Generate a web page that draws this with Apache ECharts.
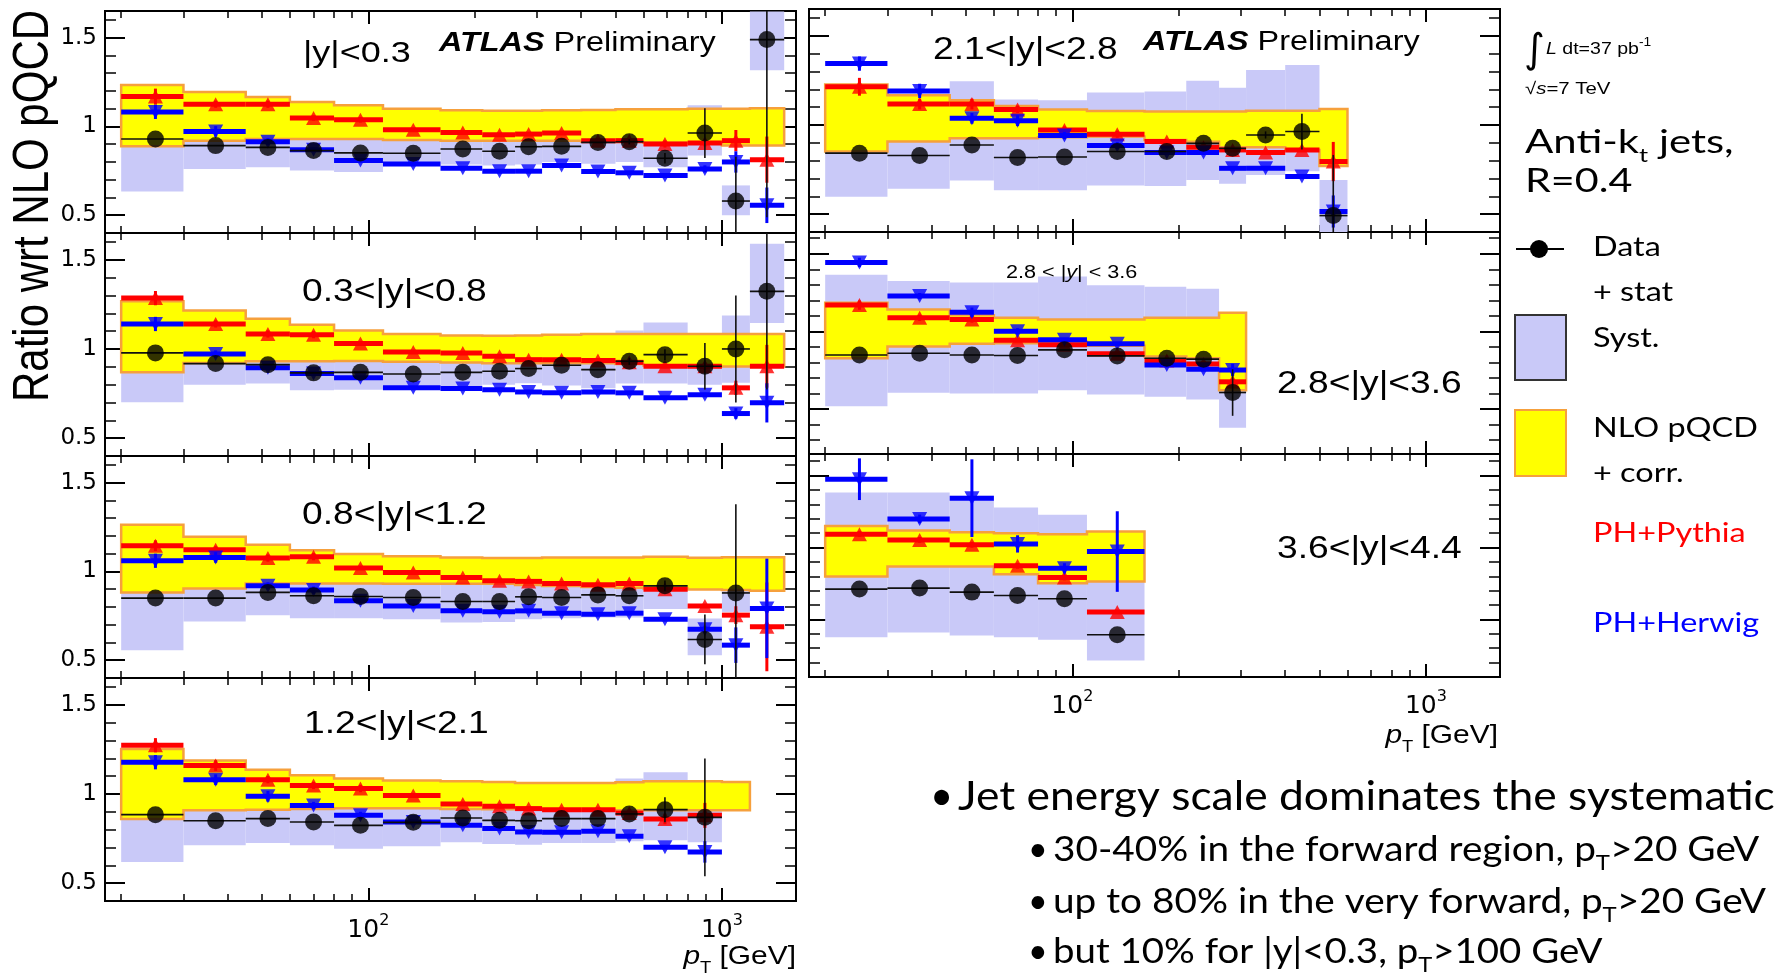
<!DOCTYPE html>
<html><head><meta charset="utf-8">
<script src="https://cdn.jsdelivr.net/npm/echarts@6/dist/echarts.min.js"></script>
<style>html,body{margin:0;padding:0;background:#fff}#c{width:1777px;height:979px}</style>
</head><body><div id="c"></div>
<script>
// ---------------- data ----------------
const binEdges   = [20,30,45,60,80,110,160,210,260,310,400,500,600,800,1000,1200,1500];
const binCentres = [25,37,52,70,95,134,185,235,284,352,446,547,690,895,1095,1340];
const xRange = [18, 1620];
const xMajorTicks = [100, 1000];
const xMinorTicks = [20,30,40,50,60,70,80,90,200,300,400,500,600,700,800,900];
const yMajorTicks = [0.5, 1, 1.5];
const yRangeMain = [0.4, 1.65];
const yRangeR2 = [0.21, 1.64];
const yRangeR3 = [0.1, 1.65];
const yMinorMain = [0.5,0.6,0.7,0.8,0.9,1.1,1.2,1.3,1.4,1.6];
const yMinorR2 = [0.3,0.4,0.6,0.7,0.8,0.9,1.1,1.2,1.3,1.4,1.6];
const yMinorR3 = [0.2,0.3,0.4,0.6,0.7,0.8,0.9,1.1,1.2,1.3,1.4,1.6];

// |y|<0.3
const nlo1Lo = [0.888,0.920,0.929,0.929,0.929,0.924,0.920,0.920,0.920,0.920,0.915,0.913,0.908,0.905,0.892,0.892];
const nlo1Hi = [1.233,1.194,1.166,1.138,1.119,1.100,1.091,1.088,1.088,1.091,1.093,1.097,1.097,1.100,1.100,1.103];
const sys1Lo = [0.634,0.761,0.770,0.752,0.743,0.780,0.785,0.780,0.785,0.800,0.790,0.800,0.770,0.836,0.500,1.317];
const sys1Hi = [1.200,1.020,1.000,0.980,0.960,0.940,0.960,0.950,0.990,0.980,1.030,1.030,0.950,1.119,0.668,1.647];
const data1 = [0.929,0.892,0.882,0.864,0.851,0.849,0.873,0.860,0.886,0.888,0.910,0.914,0.821,0.963,0.580,1.489];
const data1Err = [0,0,0,0,0,0,0,0,0,0,0,0.015,0.03,0.14,0.25,1.0];
const pythia1 = [1.168,1.125,1.125,1.047,1.037,0.981,0.966,0.953,0.957,0.963,0.920,0.920,0.901,0.907,0.920,0.813];
const pythia1Err = [0.045,0.02,0.02,0.015,0.015,0.01,0.01,0.01,0.01,0.01,0.01,0.01,0.02,0.02,0.06,0.13];
const herwig1 = [1.082,0.972,0.914,0.869,0.808,0.789,0.765,0.748,0.748,0.780,0.746,0.739,0.724,0.761,0.800,0.556];
const herwig1Err = [0.04,0.03,0.02,0.01,0.01,0.01,0.01,0.01,0.01,0.01,0.01,0.01,0.01,0.02,0.06,0.10];

// 0.3<|y|<0.8
const nlo2Lo = [0.869,0.922,0.931,0.931,0.933,0.929,0.924,0.920,0.920,0.920,0.920,0.916,0.907,0.901,0.901,0.901];
const nlo2Hi = [1.267,1.216,1.170,1.136,1.103,1.084,1.076,1.074,1.076,1.080,1.084,1.084,1.084,1.084,1.084,1.084];
const sys2Lo = [0.701,0.800,0.806,0.769,0.772,0.780,0.790,0.800,0.808,0.795,0.780,0.806,0.806,0.800,0.810,1.146];
const sys2Hi = [1.250,1.030,1.010,0.960,0.960,0.940,0.950,0.950,0.970,0.990,0.990,1.104,1.149,1.000,1.188,1.590];
const data2 = [0.978,0.918,0.912,0.866,0.869,0.860,0.869,0.875,0.890,0.909,0.884,0.931,0.968,0.903,1.000,1.323];
const data2Err = [0,0,0,0,0,0,0,0,0,0,0,0.02,0.03,0.13,0.30,0.55];
const pythia2 = [1.285,1.140,1.084,1.080,1.030,0.983,0.978,0.959,0.940,0.940,0.935,0.925,0.903,0.903,0.782,0.903];
const pythia2Err = [0.04,0.02,0.02,0.02,0.01,0.01,0.01,0.01,0.01,0.01,0.01,0.01,0.01,0.02,0.04,0.12];
const herwig2 = [1.140,0.972,0.894,0.862,0.838,0.782,0.778,0.772,0.759,0.754,0.759,0.754,0.726,0.744,0.638,0.698];
const herwig2Err = [0.04,0.02,0.01,0.01,0.01,0.01,0.01,0.01,0.01,0.01,0.01,0.01,0.01,0.01,0.03,0.11];

// 0.8<|y|<1.2
const nlo3Lo = [0.882,0.904,0.932,0.932,0.932,0.931,0.931,0.931,0.923,0.918,0.912,0.908,0.904,0.898,0.895,0.891];
const nlo3Hi = [1.263,1.195,1.150,1.120,1.098,1.085,1.079,1.075,1.075,1.079,1.079,1.079,1.083,1.077,1.080,1.080];
const sys3Lo = [0.556,0.718,0.754,0.737,0.737,0.731,0.712,0.716,0.731,0.737,0.740,0.740,0.788,0.528,0.772];
const sys3Hi = [1.250,1.000,1.000,0.980,0.970,0.960,0.940,0.940,0.960,0.960,0.970,0.970,0.950,0.735,0.940];
const data3 = [0.850,0.850,0.882,0.863,0.859,0.853,0.831,0.831,0.857,0.853,0.868,0.863,0.919,0.617,0.879];
const data3Err = [0,0,0,0,0,0,0,0,0,0,0,0,0.03,0.14,0.50];
const pythia3 = [1.145,1.122,1.075,1.083,1.019,0.994,0.966,0.947,0.944,0.932,0.925,0.932,0.900,0.806,0.754,0.688];
const pythia3Err = [0.03,0.02,0.02,0.02,0.01,0.01,0.01,0.01,0.01,0.01,0.01,0.01,0.01,0.01,0.05,0.25];
const herwig3 = [1.060,1.079,0.919,0.895,0.835,0.806,0.778,0.773,0.778,0.765,0.759,0.765,0.731,0.675,0.585,0.792];
const herwig3Err = [0.04,0.03,0.02,0.02,0.01,0.01,0.01,0.01,0.01,0.01,0.01,0.01,0.01,0.02,0.10,0.28];

// 1.2<|y|<2.1
const nlo4Lo = [0.860,0.908,0.912,0.916,0.920,0.920,0.916,0.914,0.914,0.912,0.908,0.908,0.908,0.908,0.908];
const nlo4Hi = [1.252,1.187,1.136,1.105,1.086,1.075,1.071,1.067,1.062,1.062,1.062,1.065,1.071,1.071,1.067];
const sys4Lo = [0.619,0.712,0.725,0.712,0.693,0.707,0.729,0.720,0.716,0.725,0.725,0.735,0.740,0.729];
const sys4Hi = [1.150,0.990,1.000,0.980,0.960,0.980,1.000,0.980,0.980,1.000,1.000,1.086,1.121,1.050];
const data4 = [0.884,0.850,0.862,0.843,0.824,0.841,0.865,0.852,0.850,0.862,0.862,0.888,0.912,0.869];
const data4Err = [0,0,0,0,0,0,0,0,0,0,0,0,0.07,0.33];
const pythia4 = [1.273,1.159,1.080,1.047,1.030,0.991,0.944,0.931,0.918,0.912,0.912,0.893,0.860,0.880];
const pythia4Err = [0.04,0.03,0.02,0.02,0.02,0.01,0.01,0.01,0.01,0.01,0.01,0.01,0.03,0.07];
const herwig4 = [1.178,1.080,0.987,0.936,0.880,0.843,0.824,0.806,0.787,0.785,0.791,0.763,0.701,0.675];
const herwig4Err = [0.04,0.03,0.03,0.02,0.02,0.01,0.01,0.01,0.01,0.01,0.01,0.01,0.01,0.06];

// 2.1<|y|<2.8
const nloR1Lo = [0.851,0.907,0.926,0.926,0.931,0.935,0.916,0.906,0.875,0.875,0.860,0.770];
const nloR1Hi = [1.227,1.167,1.139,1.106,1.087,1.078,1.075,1.075,1.075,1.080,1.080,1.090];
const sysR1Lo = [0.597,0.643,0.688,0.634,0.634,0.660,0.658,0.692,0.670,0.720,0.740,0.380];
const sysR1Hi = [1.100,1.000,1.245,1.143,1.139,1.182,1.187,1.248,1.209,1.308,1.336,0.692];
const dataR1 = [0.842,0.829,0.888,0.818,0.820,0.851,0.851,0.897,0.869,0.944,0.963,0.492];
const dataR1Err = [0,0,0,0,0,0,0,0,0,0.02,0.10,0.34];
const pythiaR1 = [1.214,1.117,1.117,1.087,0.972,0.948,0.907,0.875,0.860,0.845,0.860,0.795];
const pythiaR1Err = [0.05,0.03,0.03,0.02,0.02,0.02,0.01,0.01,0.01,0.01,0.01,0.11];
const herwigR1 = [1.344,1.191,1.037,1.024,0.941,0.885,0.845,0.846,0.757,0.757,0.711,0.515];
const herwigR1Err = [0.04,0.04,0.03,0.03,0.02,0.02,0.01,0.01,0.01,0.01,0.01,0.09];

// 2.8<|y|<3.6
const nloR2Lo = [0.827,0.903,0.920,0.924,0.935,0.907,0.838,0.827,0.621];
const nloR2Hi = [1.184,1.141,1.104,1.087,1.076,1.076,1.087,1.087,1.120];
const sysR2Lo = [0.517,0.604,0.600,0.600,0.621,0.593,0.578,0.561,0.379];
const sysR2Hi = [1.364,1.325,1.314,1.314,1.353,1.297,1.288,1.275,1.100];
const dataR2 = [0.848,0.859,0.848,0.844,0.881,0.842,0.827,0.821,0.606];
const dataR2Err = [0,0,0,0,0,0,0,0,0.15];
const pythiaR2 = [1.169,1.087,1.076,0.942,0.914,0.855,0.812,0.790,0.675];
const pythiaR2Err = [0.03,0.02,0.02,0.01,0.01,0.01,0.01,0.01,0.02];
const herwigR2 = [1.444,1.227,1.123,1.000,0.946,0.920,0.784,0.756,0.751];
const herwigR2Err = [0.03,0.02,0.03,0.02,0.01,0.01,0.01,0.01,0.04];

// 3.6<|y|<4.4
const nloR3Lo = [0.799,0.868,0.868,0.815,0.752,0.764];
const nloR3Hi = [1.150,1.118,1.106,1.100,1.093,1.111];
const sysR3Lo = [0.377,0.410,0.389,0.377,0.359,0.215];
const sysR3Hi = [1.382,1.382,1.360,1.278,1.227,1.050];
const dataR3 = [0.711,0.718,0.690,0.667,0.644,0.394];
const dataR3Err = [0,0,0,0,0,0];
const pythiaR3 = [1.093,1.053,1.019,0.873,0.792,0.551];
const pythiaR3Err = [0.02,0.02,0.02,0.02,0.02,0.01];
const herwigR3 = [1.475,1.199,1.343,1.025,0.856,0.972];
const herwigR3Err = [0.145,0.03,0.27,0.06,0.035,0.28];

// ---------------- layout / style ----------------
const LS = '"Liberation Sans", Arial, Helvetica, sans-serif';
const LATO = 'Lato, "Open Sans", sans-serif';
const DJ = '"DejaVu Sans", sans-serif';
const C_RED = '#ff0000', C_BLUE = '#0000ff', C_YEL = '#ffff00', C_ORG = '#f6a03c', C_SYS = '#c9c9f8';

const panels = [
  {box:[105,11,691,222],  yr:yRangeMain, yMinor:yMinorMain, yLab:true,  xLab:false, nlo:[nlo1Lo,nlo1Hi], sys:[sys1Lo,sys1Hi], dat:[data1,data1Err], py:[pythia1,pythia1Err], hw:[herwig1,herwig1Err]},
  {box:[105,233,691,223], yr:yRangeMain, yMinor:yMinorMain, yLab:true,  xLab:false, nlo:[nlo2Lo,nlo2Hi], sys:[sys2Lo,sys2Hi], dat:[data2,data2Err], py:[pythia2,pythia2Err], hw:[herwig2,herwig2Err]},
  {box:[105,456,691,222], yr:yRangeMain, yMinor:yMinorMain, yLab:true,  xLab:false, nlo:[nlo3Lo,nlo3Hi], sys:[sys3Lo,sys3Hi], dat:[data3,data3Err], py:[pythia3,pythia3Err], hw:[herwig3,herwig3Err]},
  {box:[105,678,691,223], yr:yRangeMain, yMinor:yMinorMain, yLab:true,  xLab:true,  nlo:[nlo4Lo,nlo4Hi], sys:[sys4Lo,sys4Hi], dat:[data4,data4Err], py:[pythia4,pythia4Err], hw:[herwig4,herwig4Err]},
  {box:[809,9,691,223],   yr:yRangeMain, yMinor:yMinorMain, yLab:false, xLab:false, nlo:[nloR1Lo,nloR1Hi], sys:[sysR1Lo,sysR1Hi], dat:[dataR1,dataR1Err], py:[pythiaR1,pythiaR1Err], hw:[herwigR1,herwigR1Err]},
  {box:[809,232,691,222], yr:yRangeR2,   yMinor:yMinorR2,   yLab:false, xLab:false, nlo:[nloR2Lo,nloR2Hi], sys:[sysR2Lo,sysR2Hi], dat:[dataR2,dataR2Err], py:[pythiaR2,pythiaR2Err], hw:[herwigR2,herwigR2Err]},
  {box:[809,454,691,223], yr:yRangeR3,   yMinor:yMinorR3,   yLab:false, xLab:true,  nlo:[nloR3Lo,nloR3Hi], sys:[sysR3Lo,sysR3Hi], dat:[dataR3,dataR3Err], py:[pythiaR3,pythiaR3Err], hw:[herwigR3,herwigR3Err]}
];

function rectRender(fill) {
  return function (params, api) {
    const a = api.coord([api.value(0), api.value(3)]);
    const b = api.coord([api.value(1), api.value(2)]);
    return {type:'rect', shape:{x:a[0], y:a[1], width:b[0]-a[0], height:b[1]-a[1]}, style:{fill:fill}};
  };
}
function bandRender(lo, hi) {
  return function (params, api) {
    if (params.dataIndex !== 0) return null;
    const pts = [];
    for (let i = 0; i < lo.length; i++) { pts.push(api.coord([binEdges[i], hi[i]])); pts.push(api.coord([binEdges[i+1], hi[i]])); }
    for (let i = lo.length - 1; i >= 0; i--) { pts.push(api.coord([binEdges[i+1], lo[i]])); pts.push(api.coord([binEdges[i], lo[i]])); }
    return {type:'polygon', shape:{points:pts}, style:{fill:C_YEL, stroke:C_ORG, lineWidth:2.5}};
  };
}
function barRender(color, w, ew) {
  return function (params, api) {
    const x = api.value(0), v = api.value(1), e = api.value(2), l = api.value(3), h = api.value(4);
    const a = api.coord([l, v]), b = api.coord([h, v]);
    const ch = [{type:'line', shape:{x1:a[0], y1:a[1], x2:b[0], y2:b[1]}, style:{stroke:color, lineWidth:w}}];
    if (e > 0) {
      const t = api.coord([x, v + e]), d = api.coord([x, v - e]);
      ch.push({type:'line', shape:{x1:t[0], y1:t[1], x2:d[0], y2:d[1]}, style:{stroke:color, lineWidth:ew}});
    }
    return {type:'group', children:ch};
  };
}
const binItems = (lo, hi) => lo.map((v, i) => [binEdges[i], binEdges[i+1], v, hi[i]]);
const ptItems = (vals, errs) => vals.map((v, i) => [binCentres[i], v, errs[i], binEdges[i], binEdges[i+1]]);
const mkItems = (vals) => vals.map((v, i) => [binCentres[i], v]);

const grid = [], xAxis = [], yAxis = [], series = [];
panels.forEach((p, g) => {
  grid.push({left:p.box[0], top:p.box[1], width:p.box[2], height:p.box[3], show:true, borderColor:'#000', borderWidth:2, backgroundColor:'rgba(0,0,0,0)'});
  const xb = {type:'log', logBase:10, gridIndex:g, min:xRange[0], max:xRange[1], axisLine:{show:false}, splitLine:{show:false}};
  const xi = xAxis.length;
  xAxis.push(Object.assign({}, xb, {position:'bottom',
    axisTick:{inside:true, length:13, customValues:xMajorTicks, lineStyle:{color:'#000', width:2}},
    axisLabel:{show:p.xLab, customValues:xMajorTicks, margin:12, color:'#000',
      formatter: v => '{b|10}{s|' + Math.round(Math.log10(v)) + '}',
      rich:{b:{fontFamily:DJ, fontSize:25, lineHeight:34, color:'#000'}, s:{fontFamily:DJ, fontSize:16, lineHeight:16, verticalAlign:'top', color:'#000'}}}}));
  xAxis.push(Object.assign({}, xb, {position:'bottom', axisTick:{inside:true, length:7, customValues:xMinorTicks, lineStyle:{color:'#000', width:1.5}}, axisLabel:{show:false}}));
  xAxis.push(Object.assign({}, xb, {position:'top', axisTick:{inside:true, length:13, customValues:xMajorTicks, lineStyle:{color:'#000', width:2}}, axisLabel:{show:false}}));
  xAxis.push(Object.assign({}, xb, {position:'top', axisTick:{inside:true, length:7, customValues:xMinorTicks, lineStyle:{color:'#000', width:1.5}}, axisLabel:{show:false}}));

  const yb = {type:'value', gridIndex:g, min:p.yr[0], max:p.yr[1], axisLine:{show:false}, splitLine:{show:false}};
  const yi = yAxis.length;
  yAxis.push(Object.assign({}, yb, {position:'left',
    axisTick:{inside:true, length:20, customValues:yMajorTicks, lineStyle:{color:'#000', width:2}},
    axisLabel:{show:p.yLab, customValues:yMajorTicks, margin:8, color:'#000', fontFamily:DJ, fontSize:23, formatter: v => String(v)}}));
  yAxis.push(Object.assign({}, yb, {position:'left', axisTick:{inside:true, length:11, customValues:p.yMinor, lineStyle:{color:'#000', width:1.5}}, axisLabel:{show:false}}));
  yAxis.push(Object.assign({}, yb, {position:'right', axisTick:{inside:true, length:20, customValues:yMajorTicks, lineStyle:{color:'#000', width:2}}, axisLabel:{show:false}}));
  yAxis.push(Object.assign({}, yb, {position:'right', axisTick:{inside:true, length:11, customValues:p.yMinor, lineStyle:{color:'#000', width:1.5}}, axisLabel:{show:false}}));

  const base = {xAxisIndex:xi, yAxisIndex:yi, silent:true, clip:true};
  series.push(Object.assign({}, base, {type:'custom', name:'Syst.', z:1, data:binItems(p.sys[0], p.sys[1]), encode:{x:[0,1], y:[2,3]}, renderItem:rectRender(C_SYS)}));
  series.push(Object.assign({}, base, {type:'custom', name:'NLO pQCD', z:2, data:binItems(p.nlo[0], p.nlo[1]), encode:{x:[0,1], y:[2,3]}, renderItem:bandRender(p.nlo[0], p.nlo[1])}));
  series.push(Object.assign({}, base, {type:'custom', name:'PH+Pythia bars', z:3, data:ptItems(p.py[0], p.py[1]), encode:{x:0, y:1}, renderItem:barRender(C_RED, 5, 3)}));
  series.push(Object.assign({}, base, {type:'scatter', name:'PH+Pythia', z:3, data:mkItems(p.py[0]), symbol:'triangle', symbolSize:[15,14], itemStyle:{color:C_RED}}));
  series.push(Object.assign({}, base, {type:'custom', name:'PH+Herwig bars', z:4, data:ptItems(p.hw[0], p.hw[1]), encode:{x:0, y:1}, renderItem:barRender(C_BLUE, 5, 3)}));
  series.push(Object.assign({}, base, {type:'scatter', name:'PH+Herwig', z:4, data:mkItems(p.hw[0]), symbol:'triangle', symbolRotate:180, symbolSize:[15,14], itemStyle:{color:C_BLUE}}));
  series.push(Object.assign({}, base, {type:'custom', name:'Data bars', z:5, data:ptItems(p.dat[0], p.dat[1]), encode:{x:0, y:1}, renderItem:barRender('#111', 1.6, 1.6)}));
  series.push(Object.assign({}, base, {type:'scatter', name:'Data', z:5, data:mkItems(p.dat[0]), symbol:'circle', symbolSize:17, itemStyle:{color:'#000'}}));
});

// ---------------- texts ----------------
function T(x, y, text, o) {
  o = o || {};
  return {type:'text', x:x, y:y, scaleX:o.sx || 1, scaleY:o.sy || 1, rotation:o.rot || 0, silent:true, z:100,
    style:{text:text, fontFamily:o.ff || LS, fontSize:o.fs || 30, fontWeight:o.fw || 'normal', fontStyle:o.fst || 'normal',
      fill:o.c || '#000', align:o.al || 'left', verticalAlign:'middle', rich:o.rich}};
}
const atlasRich = {b:{fontFamily:LS, fontSize:27, fontWeight:'bold', fontStyle:'italic'}};
const ptRich = {i:{fontFamily:LS, fontSize:26, fontStyle:'italic', lineHeight:40, verticalAlign:'middle'},
                sub:{fontFamily:LS, fontSize:16, lineHeight:16, verticalAlign:'bottom'},
                n:{fontFamily:LS, fontSize:26, lineHeight:40, verticalAlign:'middle'}};
const bRich = (fs) => ({n:{fontFamily:LATO, fontSize:fs, lineHeight:fs+14, verticalAlign:'middle'},
                        sub:{fontFamily:LATO, fontSize:Math.round(fs*0.62), lineHeight:Math.round(fs*0.62), verticalAlign:'bottom'}});
const elements = [
  T(34, 206, 'Ratio wrt NLO pQCD', {fs:42, rot:Math.PI/2, al:'center', sy:1.2}),
  T(303, 54, '|y|<0.3', {fs:30, sx:1.2}),
  T(439, 44, '{b|ATLAS} Preliminary', {fs:27, sx:1.2, rich:atlasRich}),
  T(302, 292, '0.3<|y|<0.8', {fs:31, sx:1.2}),
  T(302, 515, '0.8<|y|<1.2', {fs:31, sx:1.2}),
  T(304, 724, '1.2<|y|<2.1', {fs:31, sx:1.2}),
  T(933, 50, '2.1<|y|<2.8', {fs:31, sx:1.2}),
  T(1143, 43, '{b|ATLAS} Preliminary', {fs:27, sx:1.2, rich:atlasRich}),
  T(1006, 273, '2.8 < |{i|y}| < 3.6', {fs:18, sx:1.2, rich:{i:{fontFamily:LS, fontSize:18, fontStyle:'italic'}}}),
  T(1277, 384, '2.8<|y|<3.6', {fs:31, sx:1.2}),
  T(1277, 549, '3.6<|y|<4.4', {fs:31, sx:1.2}),
  T(796, 957, '{i|p}{sub|T}{n| [GeV]}', {al:'right', sx:1.15, rich:ptRich}),
  T(1498, 736, '{i|p}{sub|T}{n| [GeV]}', {al:'right', sx:1.15, rich:ptRich}),
  // legend block
  T(1524, 52, '\u222B', {fs:40, ff:DJ}),
  T(1546, 49, '{i|L} dt=37 pb{s|-1}', {fs:17, sx:1.15, rich:{i:{fontFamily:LS, fontSize:17, fontStyle:'italic', lineHeight:24, verticalAlign:'middle'}, s:{fontFamily:LS, fontSize:12, lineHeight:12, verticalAlign:'top'}}}),
  T(1525, 89, '\u221A{i|s}=7 TeV', {fs:17, sx:1.2, rich:{i:{fontFamily:LS, fontSize:17, fontStyle:'italic'}}}),
  T(1525, 142, '{n|Anti-k}{sub|t}{n| jets,}', {fs:33, sx:1.27, rich:bRich(33)}),
  T(1525, 181, 'R=0.4', {fs:33, sx:1.25, ff:LATO}),
  T(1593, 247, 'Data', {fs:27, sx:1.2, ff:LATO}),
  T(1593, 292, '+ stat', {fs:27, sx:1.2, ff:LATO}),
  T(1593, 338, 'Syst.', {fs:27, sx:1.2, ff:LATO}),
  T(1593, 428, 'NLO pQCD', {fs:27, sx:1.2, ff:LATO}),
  T(1593, 473, '+ corr.', {fs:27, sx:1.2, ff:LATO}),
  T(1593, 533, 'PH+Pythia', {fs:27, sx:1.2, ff:LATO, c:C_RED}),
  T(1593, 623, 'PH+Herwig', {fs:27, sx:1.2, ff:LATO, c:C_BLUE}),
  {type:'line', silent:true, z:100, shape:{x1:1516, y1:249, x2:1564, y2:249}, style:{stroke:'#000', lineWidth:2}},
  {type:'circle', silent:true, z:101, shape:{cx:1539, cy:249, r:9}, style:{fill:'#000'}},
  {type:'rect', silent:true, z:100, shape:{x:1515, y:315, width:51, height:65}, style:{fill:C_SYS, stroke:'#333', lineWidth:2}},
  {type:'rect', silent:true, z:100, shape:{x:1515, y:410, width:51, height:66}, style:{fill:C_YEL, stroke:C_ORG, lineWidth:2}},
  // bullets
  T(930, 797, '\u2022', {fs:40, ff:LATO}),
  T(958, 797, 'Jet energy scale dominates the systematic', {fs:40, sx:1.11, ff:LATO}),
  T(1028, 850, '\u2022', {fs:34, ff:LATO}),
  T(1053, 850, '{n|30-40% in the forward region, p}{sub|T}{n|>20 GeV}', {fs:34, sx:1.14, rich:bRich(34)}),
  T(1028, 902, '\u2022', {fs:34, ff:LATO}),
  T(1053, 902, '{n|up to 80% in the very forward, p}{sub|T}{n|>20 GeV}', {fs:34, sx:1.14, rich:bRich(34)}),
  T(1028, 952, '\u2022', {fs:34, ff:LATO}),
  T(1053, 952, '{n|but 10% for |y|<0.3, p}{sub|T}{n|>100 GeV}', {fs:34, sx:1.13, rich:bRich(34)})
];

const chart = echarts.init(document.getElementById('c'), null, {renderer:'canvas', width:1777, height:979});
chart.setOption({animation:false, backgroundColor:'#fff', grid:grid, xAxis:xAxis, yAxis:yAxis, series:series, graphic:{elements:elements}});
</script></body></html>
